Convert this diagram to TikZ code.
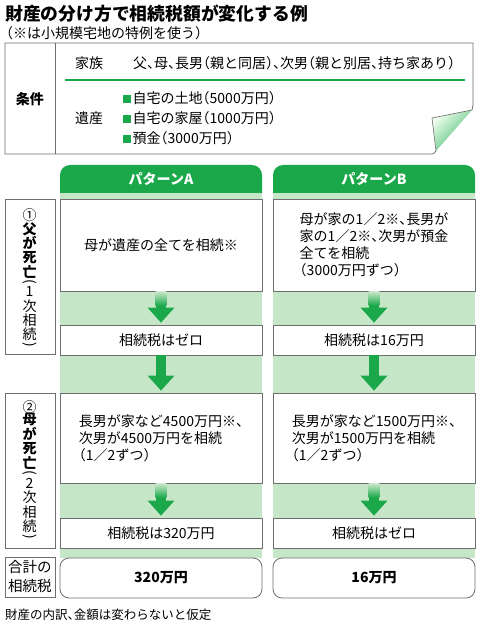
\documentclass[tikz,border=0pt]{standalone}
\usepackage{fontspec}
\setmainfont{Noto Sans CJK JP}[RawFeature=+halt]
\usetikzlibrary{arrows.meta,calc}
\definecolor{pgreen}{HTML}{1BA84A}
\definecolor{colbg}{HTML}{C6E6C8}
\definecolor{linegray}{HTML}{6E6E6E}
\newcommand{\gsq}{\textcolor{pgreen}{\rule[0.5pt]{8pt}{8pt}}\hspace{1.5pt}}

\begin{document}
\begin{tikzpicture}[x=1pt, y=-1pt,
  box/.style={draw=linegray, fill=white, line width=0.8pt, minimum width=202pt, inner sep=0pt,
    align=center, font=\fontsize{14}{17}\selectfont},
  lbl/.style={draw=linegray, fill=white, line width=0.8pt, minimum width=50pt, inner sep=0pt,
    align=center, font=\fontsize{14}{15}\selectfont},
  vch/.style={inner sep=0pt, font=\fontsize{14}{15}\selectfont},
  hdr/.style={text=white, font=\fontsize{14}{16}\selectfont\bfseries},
  txt/.style={inner sep=0pt, font=\fontsize{14}{17}\selectfont},
  arr/.style={pgreen, line width=10pt, -{Triangle[width=27pt, length=15pt, line width=0pt]}, shorten >=2pt},
  fade/.style={top color=colbg, bottom color=pgreen}
]
  \useasboundingbox (0,0) rectangle (480,628);

  % title
  \node[txt, anchor=west, font=\fontsize{17.8}{20}\selectfont\bfseries] (title) at (5,14) {財産の分け方で相続税額が変化する例};
  \node[txt, anchor=west] (subtitle) at (6,33) {（※は小規模宅地の特例を使う）};

  % conditions
  \draw[linegray, line width=0.8pt] (472,110) .. controls (473,106) .. (473,100) -- (473,43) -- (5,43)
    -- (5,154) -- (428,154) .. controls (434,154) .. (436,151);
  \draw[linegray, line width=0.8pt] (55,43) -- (55,154);
  \shade[top color=green!6, bottom color=pgreen!85, shading angle=45] (432,118) -- (472,110) -- (436,151) -- cycle;
  \draw[linegray, line width=0.6pt] (472,110) -- (432,118) -- (436,151);
  \draw[pgreen, line width=1.5pt] (65,80) -- (465,80);

  \node[txt, font=\fontsize{14}{17}\selectfont\bfseries] (cond) at (30,99) {条件};
  \node[txt] (family) at (89,63) {家族};
  \node[txt, anchor=west] (members) at (133,63) {父、母、長男（親と同居）、次男（親と別居、持ち家あり）};
  \node[txt] (estate) at (89,118) {遺産};
  \node[txt, anchor=west] (land) at (123,98) {\gsq 自宅の土地（5000万円）};
  \node[txt, anchor=west] (house) at (123,118) {\gsq 自宅の家屋（1000万円）};
  \node[txt, anchor=west] (deposit) at (123,138) {\gsq 預金（3000万円）};

  % columns
  \fill[colbg] (60,193) rectangle (262,558);
  \fill[colbg] (273,193) rectangle (475,558);
  \fill[pgreen] (60,193) [rounded corners=10pt] -- (60,165) -- (262,165) [sharp corners] -- (262,193) -- cycle;
  \fill[pgreen] (273,193) [rounded corners=10pt] -- (273,165) -- (475,165) [sharp corners] -- (475,193) -- cycle;
  \node[hdr] (hdrA) at (161,179) {パターンA};
  \node[hdr] (hdrB) at (374,179) {パターンB};

  % pattern A
  \node[box, minimum height=92pt] (splitA) at (161,245) {母が遺産の全てを相続※};
  \node[box, minimum height=30pt] (taxA1) at (161,340) {相続税はゼロ};
  \node[box, minimum height=90pt, align=left] (heirA) at (161,438) {長男が家など4500万円※、\\次男が4500万円を相続\\（1／2ずつ）};
  \node[box, minimum height=30pt] (taxA2) at (161,533) {相続税は320万円};
  \node[box, minimum height=40pt, rounded corners=9pt, font=\fontsize{14}{17}\selectfont\bfseries] (totalA) at (161,578) {320万円};

  % pattern B
  \node[box, minimum height=92pt, align=left] (splitB) at (374,245) {母が家の1／2※、長男が\\家の1／2※、次男が預金\\全てを相続\\（3000万円ずつ）};
  \node[box, minimum height=30pt] (taxB1) at (374,340) {相続税は16万円};
  \node[box, minimum height=90pt, align=left] (heirB) at (374,438) {長男が家など1500万円※、\\次男が1500万円を相続\\（1／2ずつ）};
  \node[box, minimum height=30pt] (taxB2) at (374,533) {相続税はゼロ};
  \node[box, minimum height=40pt, rounded corners=9pt, font=\fontsize{14}{17}\selectfont\bfseries] (totalB) at (374,578) {16万円};

  % row labels (vertical text)
  \node[lbl, minimum height=155pt] (death1) at (30,276.5) {};
  \node[lbl, minimum height=155pt] (death2) at (30,470.5) {};
  \foreach \ch/\yy [count=\i] in {①/215, 1/292, 次/306, 相/320, 続/334}
    \node[vch] (d1r\i) at (29.5,\yy) {\ch};
  \foreach \ch/\yy [count=\i] in {父/229, が/243, 死/258, 亡/272}
    \node[vch, font=\fontsize{14}{15}\selectfont\bfseries] (d1b\i) at (29.5,\yy) {\ch};
  \node[vch, rotate=-90] (d1open) at (29.5,282) {(};
  \node[vch, rotate=-90] (d1close) at (29.5,345) {)};
  \foreach \ch/\yy [count=\i] in {②/407, 2/483, 次/497, 相/512, 続/526}
    \node[vch] (d2r\i) at (29.5,\yy) {\ch};
  \foreach \ch/\yy [count=\i] in {母/420, が/434, 死/449, 亡/463}
    \node[vch, font=\fontsize{14}{15}\selectfont\bfseries] (d2b\i) at (29.5,\yy) {\ch};
  \node[vch, rotate=-90] (d2open) at (29.5,473) {(};
  \node[vch, rotate=-90] (d2close) at (29.5,537) {)};
  \node[lbl, minimum height=40pt, font=\fontsize{14.5}{19}\selectfont] (sumlbl) at (30,577) {合計の\\相続税};

  % arrows
  \foreach \a/\b in {splitA/taxA1, taxA1/heirA, heirA/taxA2, splitB/taxB1, taxB1/heirB, heirB/taxB2}
    \draw[arr] (\a) -- (\b);
  \foreach \a in {splitA, heirA, splitB, heirB}
    \shade[fade] ($(\a.south)+(-5.3,0.4)$) rectangle ($(\a.south)+(5.3,14)$);

  \node[txt, anchor=west, font=\fontsize{12.5}{15}\selectfont] (note) at (5,615) {財産の内訳、金額は変わらないと仮定};
\end{tikzpicture}
\end{document}
